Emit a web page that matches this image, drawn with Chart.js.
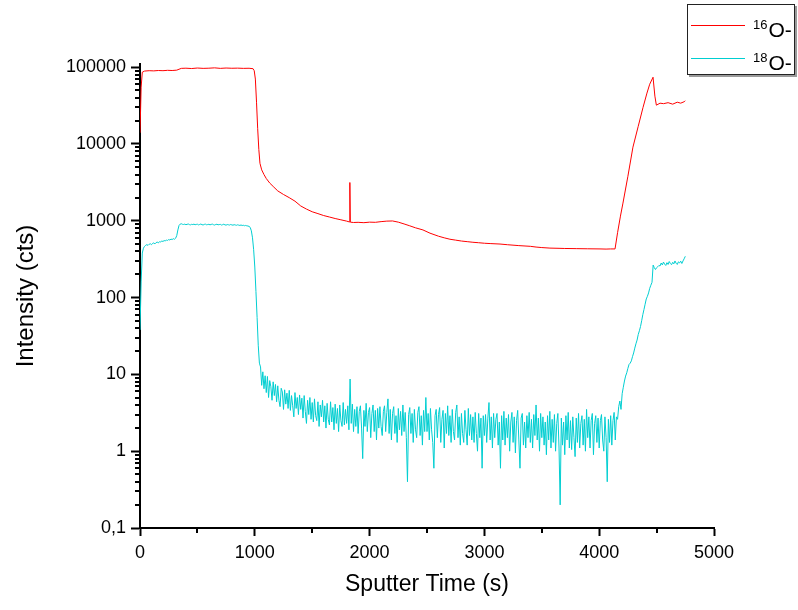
<!DOCTYPE html>
<html>
<head>
<meta charset="utf-8">
<script src="https://cdn.jsdelivr.net/npm/chart.js@4.4.1/dist/chart.umd.min.js"></script>
<style>
  body { margin: 0; background: #fff; }
  #wrap { position: relative; width: 798px; height: 610px; }
  #legend {
    position: absolute; left: 687px; top: 4px; width: 106px; height: 69px;
    border: 1px solid #222; box-shadow: 2px 2px 0 #9a9a9a; background: #fff;
    font-family: "Liberation Sans", Arial, sans-serif; color: #000;
  }
  .row { position: absolute; left: 0; width: 106px; height: 30px; }
  .swatch { position: absolute; left: 3px; top: 15px; width: 54px; height: 1px; }
  .lbl { position: absolute; left: 65px; top: 3px; font-size: 21px; line-height: 24px; white-space: nowrap; }
  .lbl sup { font-size: 13px; vertical-align: 8px; margin-right: 1px; }
</style>
</head>
<body>
<div id="wrap">
  <canvas id="graph" width="798" height="610"></canvas>
  <div id="legend"></div>
</div>
<script>
// axis ticks
const xTickValues = [0, 1000, 2000, 3000, 4000, 5000];
const yTickValues = [0.1, 1, 10, 100, 1000, 10000, 100000];

// legend labels (mass number + ion)
const isotopes = ['16', '18'];
const ionName = 'O-';
const lineColors = ['#FF0000', '#00CED1'];

// 16O- : sputter time (s) and counts
const o16Time = [0, 10, 20, 40, 80, 120, 160, 200, 240, 280, 320, 340, 360, 400, 450, 500, 550, 600, 650, 700,
  750, 800, 850, 900, 950, 985, 995, 1005, 1015, 1025, 1035, 1045, 1060, 1080, 1100, 1130, 1160, 1200, 1250, 1300,
  1350, 1400, 1450, 1500, 1550, 1600, 1650, 1700, 1750, 1800, 1825, 1828, 1832, 1860, 1900, 1950, 2000, 2050, 2100, 2150,
  2200, 2250, 2300, 2350, 2400, 2465, 2526, 2600, 2650, 2700, 2750, 2800, 2850, 2900, 2950, 3000, 3050, 3136, 3200, 3300,
  3400, 3450, 3500, 3571, 3650, 3700, 3800, 3900, 4007, 4060, 4100, 4138, 4160, 4185, 4207, 4250, 4294, 4340, 4382, 4416,
  4440, 4469, 4485, 4498, 4530, 4560, 4600, 4640, 4680, 4710, 4740, 4750];
const o16Counts = [14000, 55000, 86000, 89000, 90000, 89500, 90500, 90000, 91000, 90500, 91500, 94000, 96500, 97000, 96000, 97500, 96500, 97000, 98000, 96500,
  97500, 96800, 97200, 96500, 96800, 95500, 90000, 70000, 35000, 16000, 8500, 5600, 4600, 4000, 3550, 3100, 2800, 2450, 2200, 2000,
  1800, 1560, 1420, 1310, 1240, 1170, 1120, 1070, 1030, 990, 965, 3150, 960, 950, 955, 945, 960, 955, 975, 990,
  995, 960, 910, 860, 810, 760, 690, 630, 600, 575, 560, 545, 535, 525, 518, 510, 505, 498, 488, 475,
  465, 455, 448, 441, 438, 436, 434, 432, 430, 428, 430, 430, 700, 1150, 1700, 3800, 9100, 17000, 30000, 46000,
  60000, 74000, 42000, 32000, 34000, 33500, 34500, 33000, 35000, 34000, 35500, 36500];

// 18O- : recorded every 10 s from t = 0
const o18Start = 0;
const o18Step = 10;
const o18Counts = [
  38, 160, 380, 440, 465, 480, 490, 478, 495, 502,
  488, 508, 515, 500, 520, 528, 515, 535, 530, 545,
  538, 552, 548, 560, 555, 570, 562, 578, 570, 585,
  575, 592, 640, 760, 870, 905, 915, 900, 895, 905,
  890, 898, 910, 892, 885, 900, 893, 905, 888, 897,
  902, 884, 895, 908, 890, 882, 898, 904, 887, 893,
  900, 885, 897, 906, 889, 880, 895, 901, 886, 892,
  898, 880, 890, 903, 885, 878, 893, 887, 880, 895,
  884, 876, 890, 882, 874, 886, 878, 870, 882, 868,
  875, 862, 870, 860, 855, 845, 820, 740, 600, 420,
  250, 120, 55, 24, 14, 12.5, 7.2, 10.8, 6.5, 9.6,
  5.8, 9.4, 5.0, 8.3, 6.9, 4.6, 8.0, 5.3, 7.4, 4.4,
  7.1, 4.6, 3.8, 6.6, 5.9, 3.5, 6.3, 4.1, 5.7, 3.6,
  6.2, 3.4, 5.3, 3.9, 2.8, 5.8, 3.6, 5.0, 3.0, 5.4,
  3.5, 4.9, 2.7, 5.3, 3.3, 2.3, 4.6, 3.0, 5.0, 2.6,
  4.3, 2.4, 4.8, 2.9, 2.5, 4.4, 2.1, 4.0, 2.8, 4.6,
  2.4, 3.9, 2.0, 4.2, 2.6, 2.2, 4.4, 2.4, 3.7, 1.9,
  4.1, 2.3, 3.6, 1.8, 4.0, 2.5, 2.1, 4.3, 2.2, 3.5,
  2.3, 3.9, 1.9, 8.7, 2.3, 4.1, 1.8, 3.5, 2.1, 3.8,
  1.7, 3.3, 3.9, 2.0, 0.8, 3.4, 2.1, 4.2, 1.8, 3.2,
  3.7, 1.5, 3.1, 4.0, 1.8, 3.4, 1.4, 3.6, 2.0, 3.8,
  2.1, 1.6, 3.3, 3.9, 1.8, 3.2, 4.8, 1.7, 3.5, 1.4,
  3.1, 3.8, 1.7, 2.9, 1.3, 3.6, 1.9, 3.3, 1.6, 4.0,
  1.8, 3.2, 1.5, 0.4, 3.0, 3.7, 1.7, 3.1, 1.3, 3.5,
  1.9, 1.5, 3.2, 3.8, 1.6, 2.9, 1.2, 3.4, 1.8, 5.0,
  1.8, 3.1, 1.4, 3.6, 1.9, 1.3, 0.6, 2.9, 3.5, 1.5,
  3.0, 3.7, 1.3, 2.6, 3.4, 1.1, 3.1, 1.7, 3.9, 1.6,
  2.9, 1.3, 3.5, 1.8, 1.4, 3.2, 4.0, 1.5, 2.8, 1.2,
  3.1, 1.7, 1.3, 3.4, 1.9, 1.2, 3.6, 1.6, 3.0, 1.4,
  2.8, 1.3, 3.2, 1.7, 1.0, 3.1, 1.5, 2.7, 0.6, 2.9,
  1.6, 3.0, 1.3, 2.7, 4.3, 1.4, 2.8, 1.1, 3.1, 1.5,
  2.6, 3.1, 1.2, 2.4, 0.6, 2.9, 1.4, 3.3, 1.2, 2.7,
  1.5, 3.0, 1.0, 2.4, 3.2, 1.3, 2.8, 0.95, 2.5, 3.4,
  1.4, 0.6, 2.7, 3.1, 1.2, 2.4, 1.1, 2.9, 1.5, 3.2,
  1.3, 2.6, 1.1, 3.0, 1.6, 4.0, 1.4, 2.7, 1.0, 3.1,
  1.5, 2.8, 1.2, 2.4, 0.9, 2.9, 1.4, 3.3, 1.1, 2.6,
  1.3, 3.0, 1.0, 2.3, 3.1, 1.1, 0.2, 2.7, 1.2, 2.4,
  0.9, 2.9, 1.4, 3.2, 1.1, 2.5, 1.05, 2.8, 1.5, 0.85,
  2.7, 1.3, 3.1, 1.1, 2.3, 2.9, 1.2, 2.6, 1.0, 3.5,
  1.5, 2.8, 1.1, 2.5, 3.1, 0.9, 2.3, 2.9, 1.3, 2.7,
  1.1, 2.5, 3.0, 1.4, 1.0, 2.8, 1.5, 0.4, 2.6, 1.3,
  2.9, 1.2, 2.5, 3.2, 1.4, 2.8, 2.6, 3.8, 4.5, 3.5,
  5.6, 6.8, 8.2, 9.5, 10.5, 12, 13.5, 14, 15, 17,
  19, 22, 25, 28, 33, 37, 42, 50, 60, 70,
  82, 96, 104, 115, 132, 145, 158, 265, 245, 232,
  245, 252, 262, 258, 282, 266, 290, 272, 262, 285,
  270, 295, 278, 268, 288, 275, 300, 280, 270, 292,
  283, 298, 278, 300, 320, 345
];

Chart.defaults.font.family = '"Liberation Sans", Arial, sans-serif';
Chart.defaults.color = '#000';

// short minor ticks between the labelled ones
const minorTicks = {
  id: 'minorTicks',
  afterDatasetsDraw(chart) {
    const c = chart.ctx;
    const area = chart.chartArea;
    const xs = chart.scales.x;
    const ys = chart.scales.y;
    c.save();
    c.strokeStyle = '#000';
    c.lineWidth = 2;
    c.beginPath();
    for (let k = 0; k < yTickValues.length - 1; k++) {
      for (let m = 2; m <= 9; m++) {
        const py = Math.round(ys.getPixelForValue(yTickValues[k] * m));
        c.moveTo(area.left - 5, py);
        c.lineTo(area.left, py);
      }
    }
    for (let k = 0; k < xTickValues.length - 1; k++) {
      const px = Math.round(xs.getPixelForValue(xTickValues[k] + 500));
      c.moveTo(px, area.bottom);
      c.lineTo(px, area.bottom + 5);
    }
    c.stroke();
    c.restore();
  }
};

const ctx = document.getElementById('graph').getContext('2d');
const chart = new Chart(ctx, {
  type: 'line',
  data: {
    datasets: [
      {
        label: isotopes[0] + ionName,
        data: o16Time.map((t, i) => ({ x: t, y: o16Counts[i] })),
        borderColor: lineColors[0],
        borderWidth: 1,
        pointRadius: 0,
        tension: 0
      },
      {
        label: isotopes[1] + ionName,
        data: o18Counts.map((v, i) => ({ x: o18Start + i * o18Step, y: v })),
        borderColor: lineColors[1],
        borderWidth: 1,
        pointRadius: 0,
        tension: 0
      }
    ]
  },
  options: {
    responsive: false,
    animation: false,
    layout: { padding: { left: 12, top: 64, right: 84, bottom: 12 } },
    plugins: { legend: { display: false }, tooltip: { enabled: false } },
    scales: {
      x: {
        type: 'linear',
        min: 0,
        max: 5000,
        afterBuildTicks: s => { s.ticks = xTickValues.map(v => ({ value: v })); },
        afterFit: s => { s.height = 70; },
        grid: { display: true, drawOnChartArea: false, drawTicks: true, tickLength: 8, tickWidth: 2, tickColor: '#000' },
        border: { display: true, color: '#000', width: 2 },
        ticks: { padding: 6, font: { size: 18 }, maxRotation: 0, autoSkip: false, callback: v => String(v) },
        title: { display: true, text: 'Sputter Time (s)', font: { size: 23 }, padding: 0 }
      },
      y: {
        type: 'logarithmic',
        min: 0.1,
        max: 110000,
        afterBuildTicks: s => { s.ticks = yTickValues.map(v => ({ value: v })); },
        afterFit: s => { s.width = 128; },
        grid: { display: true, drawOnChartArea: false, drawTicks: true, tickLength: 9, tickWidth: 2, tickColor: '#000' },
        border: { display: true, color: '#000', width: 2 },
        ticks: {
          padding: 5,
          font: { size: 18 },
          autoSkip: false,
          callback: v => (v < 1 ? String(v).replace('.', ',') : String(v))
        },
        title: { display: true, text: 'Intensity (cts)', font: { size: 24 }, padding: 0 }
      }
    }
  },
  plugins: [minorTicks]
});

// legend with superscript mass numbers
const legend = document.getElementById('legend');
chart.data.datasets.forEach((ds, i) => {
  const row = document.createElement('div');
  row.className = 'row';
  row.style.top = (5 + i * 33) + 'px';
  row.innerHTML = '<div class="swatch" style="background:' + ds.borderColor + '"></div>' +
    '<span class="lbl"><sup>' + isotopes[i] + '</sup>' + ionName + '</span>';
  legend.appendChild(row);
});
</script>
</body>
</html>
